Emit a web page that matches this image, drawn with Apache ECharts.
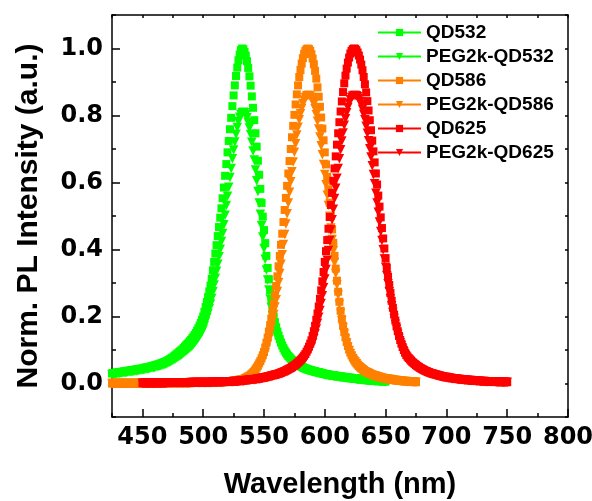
<!DOCTYPE html>
<html>
<head>
<meta charset="utf-8">
<script src="https://cdn.jsdelivr.net/npm/echarts@6/dist/echarts.min.js"></script>
<style>
  html, body { margin: 0; padding: 0; background: #fff; }
  #chart { width: 592px; height: 501px; }
</style>
</head>
<body>
<div id="chart"></div>
<script>
// Photoluminescence spectra, normalised, sampled every 1 nm.
const seriesNames = ['QD532', 'PEG2k-QD532', 'QD586', 'PEG2k-QD586', 'QD625', 'PEG2k-QD625'];
const xTicks = [450, 500, 550, 600, 650, 700, 750, 800];
const yTicks = [0, 0.2, 0.4, 0.6, 0.8, 1.0];

// QD532 / PEG2k-QD532: 425 ... 650 nm
const start532 = 425;
const qd532 = [
  .030,.031,.031,.032,.033,.033,.034,.034,.035,.035,.036,.037,.037,.038,.038,.039,.040,.040,.041,.041,.042,.043,.043,.044,.044,
  .045,.046,.047,.048,.048,.049,.050,.051,.052,.053,.054,.055,.056,.057,.058,.060,.061,.062,.064,.065,.067,.069,.071,.073,.076,.078,.081,.084,.087,.090,.093,.096,.099,.102,.106,.110,.114,.118,.122,.126,.130,.135,.140,.145,.151,.158,.165,.173,.181,.190,
  .200,.214,.228,.243,.258,.275,.292,.313,.338,.363,.388,.413,.440,.467,.495,.523,.553,.585,.620,.655,.690,.724,.759,.793,.828,.860,.890,.918,.943,.965,.982,.995,
  1.000,
  .998,.990,.979,.962,.942,.917,.889,.857,.823,.786,.747,.707,.665,.623,.581,.539,.498,.458,.419,.381,.345,.311,.279,.249,.222,.200,
  .183,.168,.155,.143,.132,.122,.113,.105,.098,.092,
  .087,.082,.078,.074,.070,.067,.064,.061,.058,.056,
  .054,.052,.050,.048,.046,.045,.043,.042,.041,.040,
  .039,.038,.037,.036,.035,.034,.033,.032,.031,.030,
  .029,.028,.028,.027,.026,.026,.025,.024,.024,.023,
  .022,.022,.021,.021,.020,.020,.019,.019,.018,.018,
  .017,.017,.016,.016,.015,.015,.014,.014,.013,.013,
  .012,.012,.012,.011,.011,.010,.010,.010,.009,.009,
  .009,.008,.008,.008,.008,.007,.007,.007,.007,.007,
  .006,.006
];
const peg532 = [
  .027,.027,.028,.028,.029,.030,.030,.031,.031,.032,.032,.033,.033,.034,.034,.035,.035,.036,.036,.037,.037,.038,.039,.039,.040,
  .041,.041,.042,.043,.043,.044,.045,.046,.047,.047,.048,.049,.050,.051,.052,.053,.054,.055,.057,.058,.059,.061,.063,.065,.067,.069,.071,.073,.076,.078,.080,.083,.085,.088,.091,.094,.097,.100,.103,.106,.109,.113,.117,.121,.126,.131,.136,.142,.148,.154,
  .162,.173,.185,.197,.209,.223,.237,.254,.274,.294,.314,.335,.356,.378,.401,.424,.448,.474,.502,.531,.559,.586,.615,.642,.671,.697,.721,.744,.764,.782,.795,.803,.808,.810,
  .808,.802,.793,.779,.763,.743,.720,.694,.667,.637,.605,.573,.539,.505,.471,.437,.403,.371,.339,.309,.279,.252,.226,.202,.180,.162,
  .150,.139,.129,.120,.112,.104,.097,.091,.085,.080,
  .076,.072,.068,.065,.062,.059,.057,.054,.052,.050,
  .048,.047,.045,.043,.042,.041,.039,.038,.037,.036,
  .035,.034,.033,.032,.032,.031,.030,.029,.028,.027,
  .026,.025,.025,.024,.023,.023,.023,.022,.022,.021,
  .020,.020,.019,.019,.018,.018,.017,.017,.016,.016,
  .015,.015,.014,.014,.014,.014,.013,.013,.012,.012,
  .011,.011,.011,.010,.010,.009,.009,.009,.008,.008,
  .008,.007,.007,.007,.007,.006,.006,.006,.006,.006,
  .005
];

// QD586 / PEG2k-QD586: 425 ... 675 nm
const start586 = 425;
const qd586 = [
  0,0,0,0,0,0,0,0,0,0,0,0,0,0,0,0,0,0,0,0,0,0,0,0,0,0,0,0,0,0,0,0,0,0,0,
  .001,.001,.001,.001,.001,.001,.001,.001,.001,.001,.001,.001,.001,.001,.001,.001,.001,.001,.001,.001,.001,.001,.001,.001,.001,.001,.001,.001,.001,.001,
  .002,.002,.002,.002,.002,.002,.002,.002,.002,.002,.002,.002,.002,.002,.002,.002,.002,.002,.002,.002,
  .003,.003,.003,.003,.004,.004,.004,.004,.005,.005,.005,.005,.006,.006,.006,.007,
  .007,.008,.008,.009,.010,.011,.012,.013,.014,.016,
  .018,.020,.022,.025,.028,.032,.036,.041,.047,.053,
  .060,.067,.075,.084,.094,.107,.122,.137,.155,.174,
  .194,.216,.239,.265,.291,.320,.350,.381,.414,.447,
  .482,.518,.554,.590,.627,.664,.700,.735,.769,.802,
  .833,.863,.890,.915,.936,.955,.971,.984,.993,.998,
  1.000,
  .998,.993,.983,.970,.953,.933,.910,.884,.856,.826,.794,.761,.726,.690,.654,.617,
  .580,.540,.500,.460,.420,.381,.343,.307,.274,.244,
  .217,.193,.172,.154,.138,.124,.112,.101,.092,.084,
  .077,.071,.065,.060,.056,.052,.048,.045,.042,.039,
  .037,.035,.033,.031,.029,.028,.026,.025,.024,.022,
  .021,.020,.019,.018,.017,.016,.015,.015,.014,.013,
  .013,.012,.011,.011,.010,.010,.009,.009,.008,.008,
  .008,.007,.007,.007,.006,.006,.006,.005,.005,.005,
  .005,.004,.004
];
const peg586 = [
  0,0,0,0,0,0,0,0,0,0,0,0,0,0,0,0,0,0,0,0,0,0,0,0,0,0,0,0,0,0,0,0,0,0,0,
  .001,.001,.001,.001,.001,.001,.001,.001,.001,.001,.001,.001,.001,.001,.001,.001,.001,.001,.001,.001,.001,.001,.001,.001,.001,.001,.001,.001,.001,.001,
  .002,.002,.002,.002,.002,.002,.002,.002,.002,.002,.002,.002,.002,.002,.002,.002,.002,.002,.002,.002,
  .003,.003,.003,.003,.004,.004,.004,.004,.004,.005,.005,.005,.005,.005,.005,.006,
  .006,.007,.007,.008,.009,.010,.011,.011,.012,.014,
  .016,.018,.019,.022,.025,.028,.032,.036,.041,.046,
  .052,.058,.065,.072,.081,.092,.105,.118,.133,.150,
  .167,.186,.206,.228,.250,.275,.301,.328,.356,.384,
  .415,.445,.476,.507,.539,.571,.602,.632,.661,.690,
  .716,.742,.765,.787,.805,.821,.835,.846,.854,.858,
  .860,
  .860,
  .858,.854,.845,.834,.820,.802,.783,.760,.736,.710,.683,.654,.624,.593,.562,.531,
  .499,.464,.430,.396,.361,.328,.295,.264,.236,.210,
  .187,.166,.148,.133,.120,.108,.098,.089,.081,.074,
  .069,.064,.059,.054,.050,.047,.043,.041,.038,.035,
  .033,.032,.030,.028,.026,.025,.023,.023,.022,.020,
  .019,.018,.017,.016,.015,.014,.014,.014,.013,.012,
  .012,.011,.010,.010,.009,.009,.008,.008,.007,.007,
  .007,.006,.006,.006,.005,.005,.005,.005,.005,.005,
  .004,.004
];

// QD625 / PEG2k-QD625: 450 ... 750 nm
const start625 = 450;
const qd625 = [
  .001,.001,.001,.001,.001,.001,.001,.001,.001,.001,.001,.001,.001,.001,.001,.001,.001,.001,.001,.001,
  .002,.002,.002,.002,.002,.002,.002,.002,.002,.002,.002,.002,.002,.002,.002,.002,.002,.002,.002,.002,
  .003,.003,.003,.003,.003,.003,.003,.003,.003,.003,.003,.003,.003,.003,.003,
  .004,.004,.004,.004,.004,.004,.004,.004,.004,.004,
  .005,.005,.005,.005,.005,.005,.005,
  .006,.006,.006,.006,.006,
  .007,.007,.007,.008,.008,.008,.009,
  .009,.010,.010,.011,.011,.012,.012,.013,.013,.014,
  .014,.015,.015,.016,.017,.018,.018,.019,.020,.021,
  .022,.023,.024,.025,.026,.027,.028,.029,.030,.031,
  .033,.034,.036,.037,.039,.041,.043,.045,.047,.049,
  .052,.054,.057,.060,.063,.066,.070,.074,.078,.083,
  .088,.095,.102,.110,.119,
  .129,.142,.156,.172,.190,.209,.230,.253,.278,.305,.333,.363,.395,.428,.462,.497,.533,.569,.605,.642,.678,.713,.747,.780,.812,.842,.870,.896,.919,.940,.958,.973,.985,.993,.998,
  1.000,
  .999,.995,.988,.979,.967,.952,.935,.915,.893,.869,
  .843,.815,.786,.756,.725,.693,.660,.627,.594,.561,
  .528,.496,.464,.433,.403,.374,.346,.319,.294,.270,
  .247,.226,.206,.188,.171,.156,.142,.130,.119,.109,
  .100,.092,.085,.080,
  .076,.072,.068,.064,.061,.058,.055,.052,.050,.047,
  .045,.043,.041,.039,.037,.036,.034,.033,.031,.030,
  .029,.028,.027,.026,.025,.024,.023,.022,.021,.020,
  .020,.019,.018,.018,.017,.016,.016,.015,.015,.014,
  .014,.013,.013,.012,.012,.011,.011,.011,.010,.010,
  .010,.009,.009,.009,.009,.008,.008,.008,.007,.007,
  .007,.007,.006,.006,.006,.006,.006,.006,.005,.005,
  .005,.005,.005,.005,.005,.004,.004,.004,.004,.004,
  .004,.004
];
const peg625 = [
  .001,.001,.001,.001,.001,.001,.001,.001,.001,.001,.001,.001,.001,.001,.001,.001,.001,.001,.001,.001,
  .002,.002,.002,.002,.002,.002,.002,.002,.002,.002,.002,.002,.002,.002,.002,.002,.002,.002,.002,.002,
  .003,.003,.003,.003,.003,.003,.003,.003,.003,.003,.003,.003,.003,.003,.003,.003,.003,
  .004,.004,.004,.004,.004,.004,.004,.004,.004,.004,.004,.004,
  .005,.005,.005,.005,.005,.005,
  .006,.006,.006,.006,.006,
  .007,.007,.007,.007,
  .008,.009,.009,.010,.010,.011,.011,.011,.011,.012,
  .012,.013,.013,.014,.015,.016,.016,.017,.018,.018,
  .019,.020,.021,.022,.023,.024,.025,.026,.026,.027,
  .029,.030,.032,.033,.034,.036,.038,.040,.041,.043,
  .046,.048,.050,.053,.055,.058,.062,.065,.069,.073,
  .077,.083,.089,.096,.103,
  .111,.122,.134,.148,.163,.180,.198,.218,.239,.262,.286,.312,.340,.368,.397,.427,.458,.489,.520,.552,.583,.613,.642,.671,.698,.724,.748,.771,.790,.808,.824,.837,.847,.854,.858,
  .860,.860,
  .859,.856,.850,.842,.832,.819,.804,.787,.768,.747,
  .725,.701,.676,.650,.624,.596,.568,.539,.511,.482,
  .454,.427,.399,.372,.347,.322,.298,.274,.253,.232,
  .212,.194,.177,.162,.147,.134,.122,.112,.102,.094,
  .086,.079,.073,.069,
  .067,.063,.060,.056,.054,.051,.048,.046,.044,.042,
  .040,.038,.036,.035,.033,.032,.030,.029,.028,.027,
  .026,.025,.024,.023,.022,.021,.020,.019,.018,.018,
  .018,.017,.016,.016,.015,.014,.014,.014,.013,.013,
  .012,.012,.011,.011,.011,.010,.010,.010,.009,.009,
  .009,.008,.008,.008,.008,.007,.007,.007,.006,.006,
  .006,.006,.005,.005,.005,.005,.005,.005,.005,.005,
  .004,.004,.004,.004,.004,.004,.004,.004,.004,.004,
  .004
];

const GREEN = '#00ff00';
const ORANGE = '#ff8000';
const RED = '#ff0000';

const TICK_FONT = '"DejaVu Sans", sans-serif';
const TEXT_FONT = '"Liberation Sans", Arial, sans-serif';

function toPoints(start, values) {
  return values.map((v, i) => [start + i, v]);
}

function spectrum(name, start, values, color, isTriangle) {
  return {
    name: name,
    type: 'line',
    xAxisIndex: 0,
    yAxisIndex: 0,
    data: toPoints(start, values),
    symbol: isTriangle ? 'triangle' : 'rect',
    symbolRotate: isTriangle ? 180 : 0,
    symbolSize: isTriangle ? 9.5 : 8,
    showSymbol: true,
    showAllSymbol: true,
    lineStyle: { width: 0, color: color },
    itemStyle: { color: color },
    emphasis: { disabled: true }
  };
}

const blackLine = { color: '#000', width: 1.5 };

const option = {
  animation: false,
  backgroundColor: '#fff',
  grid: { left: 112, right: 24, top: 15, bottom: 84, containLabel: false, outerBoundsMode: 'none' },
  legend: {
    orient: 'vertical',
    left: 377,
    top: 23,
    itemWidth: 43,
    itemHeight: 9,
    itemGap: 5,
    padding: 0,
    selectedMode: false,
    lineStyle: { width: 2 },
    textStyle: { fontFamily: TEXT_FONT, fontWeight: 'bold', fontSize: 19, color: '#000' },
    data: seriesNames
  },
  xAxis: [
    {
      type: 'value', position: 'bottom', min: 425, max: 800, interval: 25,
      axisLine: { show: true, onZero: false, lineStyle: blackLine },
      axisTick: { show: true, inside: true, length: 8, customValues: xTicks, lineStyle: blackLine },
      axisLabel: {
        customValues: xTicks, margin: 9,
        fontFamily: TICK_FONT, fontWeight: 'bold', fontSize: 24, color: '#000'
      },
      splitLine: { show: false },
      name: 'Wavelength (nm)', nameLocation: 'middle', nameGap: 53,
      nameTextStyle: { fontFamily: TEXT_FONT, fontWeight: 'bold', fontSize: 29, color: '#000' }
    },
    {
      type: 'value', position: 'bottom', min: 425, max: 800, interval: 25,
      axisLine: { show: false, onZero: false },
      axisTick: { show: true, inside: true, length: 4, lineStyle: blackLine },
      axisLabel: { show: false },
      splitLine: { show: false }
    },
    {
      type: 'value', position: 'top', min: 425, max: 800, interval: 25,
      axisLine: { show: true, onZero: false, lineStyle: blackLine },
      axisTick: { show: true, inside: true, length: 3, lineStyle: blackLine },
      axisLabel: { show: false },
      splitLine: { show: false }
    }
  ],
  yAxis: [
    {
      type: 'value', position: 'left', min: -0.1, max: 1.1, interval: 0.1,
      axisLine: { show: true, onZero: false, lineStyle: blackLine },
      axisTick: { show: true, inside: true, length: 8, customValues: yTicks, lineStyle: blackLine },
      axisLabel: {
        customValues: yTicks, margin: 9,
        formatter: v => Number(v).toFixed(1),
        fontFamily: TICK_FONT, fontWeight: 'bold', fontSize: 24, color: '#000'
      },
      splitLine: { show: false },
      name: 'Norm. PL Intensity (a.u.)', nameLocation: 'middle', nameRotate: 90, nameGap: 68,
      nameTextStyle: { fontFamily: TEXT_FONT, fontWeight: 'bold', fontSize: 30, color: '#000' }
    },
    {
      type: 'value', position: 'left', min: -0.1, max: 1.1, interval: 0.1,
      axisLine: { show: false, onZero: false },
      axisTick: { show: true, inside: true, length: 4, lineStyle: blackLine },
      axisLabel: { show: false },
      splitLine: { show: false }
    },
    {
      type: 'value', position: 'right', min: -0.1, max: 1.1, interval: 0.1,
      axisLine: { show: true, onZero: false, lineStyle: blackLine },
      axisTick: { show: true, inside: true, length: 3, lineStyle: blackLine },
      axisLabel: { show: false },
      splitLine: { show: false }
    }
  ],
  series: [
    spectrum(seriesNames[0], start532, qd532, GREEN, false),
    spectrum(seriesNames[1], start532, peg532, GREEN, true),
    spectrum(seriesNames[2], start586, qd586, ORANGE, false),
    spectrum(seriesNames[3], start586, peg586, ORANGE, true),
    spectrum(seriesNames[4], start625, qd625, RED, false),
    spectrum(seriesNames[5], start625, peg625, RED, true)
  ]
};

const chart = echarts.init(document.getElementById('chart'), null, { renderer: 'canvas' });
chart.setOption(option);
</script>
</body>
</html>
